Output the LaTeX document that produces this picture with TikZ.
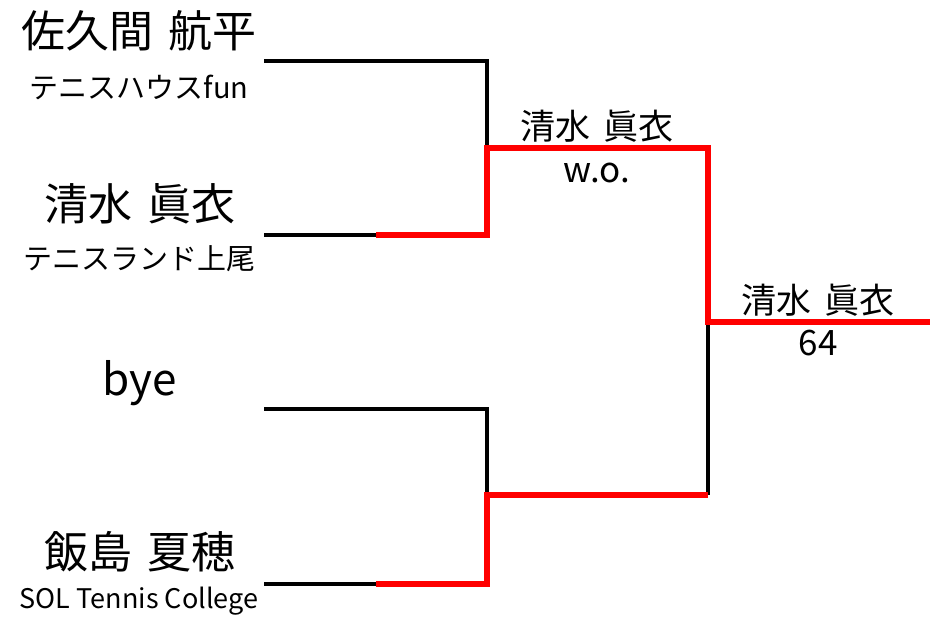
\documentclass[tikz,border=0pt]{standalone}
\usepackage{fontspec}
\setmainfont{Noto Sans CJK JP}

\newcommand{\gap}{\hspace{0.35em}}

\begin{document}
\begin{tikzpicture}[x=1pt,y=-1pt,
  player/.style={inner sep=0pt, font=\fontsize{44}{44}\selectfont},
  club/.style={inner sep=0pt, font=\fontsize{29}{29}\selectfont},
  result/.style={inner sep=0pt, font=\fontsize{35}{35}\selectfont},
  lost/.style={line width=3.5pt},
  won/.style={red, line width=6.3pt}]

\useasboundingbox (0,0) rectangle (941,616);

% players
\node[player] (sakuma) at (139,31) {佐久間\gap 航平};
\node[club] (sakumaclub) at (139,87) {テニスハウスfun};
\node[player] (shimizu) at (140,204) {清水\gap 眞衣};
\node[club] (shimizuclub) at (139,259) {テニスランド上尾};
\node[player] (bye) at (140,383) {bye};
\node[player] (iijima) at (140,552) {飯島\gap 夏穂};
\node[club, font=\fontsize{27}{27}\selectfont] (iijimaclub) at (139,601) {SOL Tennis College};

% bracket points
\coordinate (p1) at (264,61);
\coordinate (p2) at (264,235);
\coordinate (p3) at (264,409);
\coordinate (p4) at (264,584);
\coordinate (m2) at (376,235);
\coordinate (m4) at (376,584);
\coordinate (s1) at (487,148);
\coordinate (s2) at (487,495);
\coordinate (s2r) at (708,495);
\coordinate (f) at (708,322);
\coordinate (w) at (930,322);

\draw[lost] (p1) -| (s1);
\draw[lost] (p2) -- (m2);
\draw[lost] (p3) -| (s2);
\draw[lost] (p4) -- (m4);
\draw[lost] (s2r) -- (f);

\draw[won] (m2) -| (s1) -| (f) -- (w);
\draw[won] (m4) -| (s2) -- (s2r);

% results
\node[result] (semi1) at (597,126) {清水\gap 眞衣};
\node[result] (semi1score) at (597,173) {w.o.};
\node[result] (final) at (818,300) {清水\gap 眞衣};
\node[result] (finalscore) at (818,343) {64};

\end{tikzpicture}
\end{document}
